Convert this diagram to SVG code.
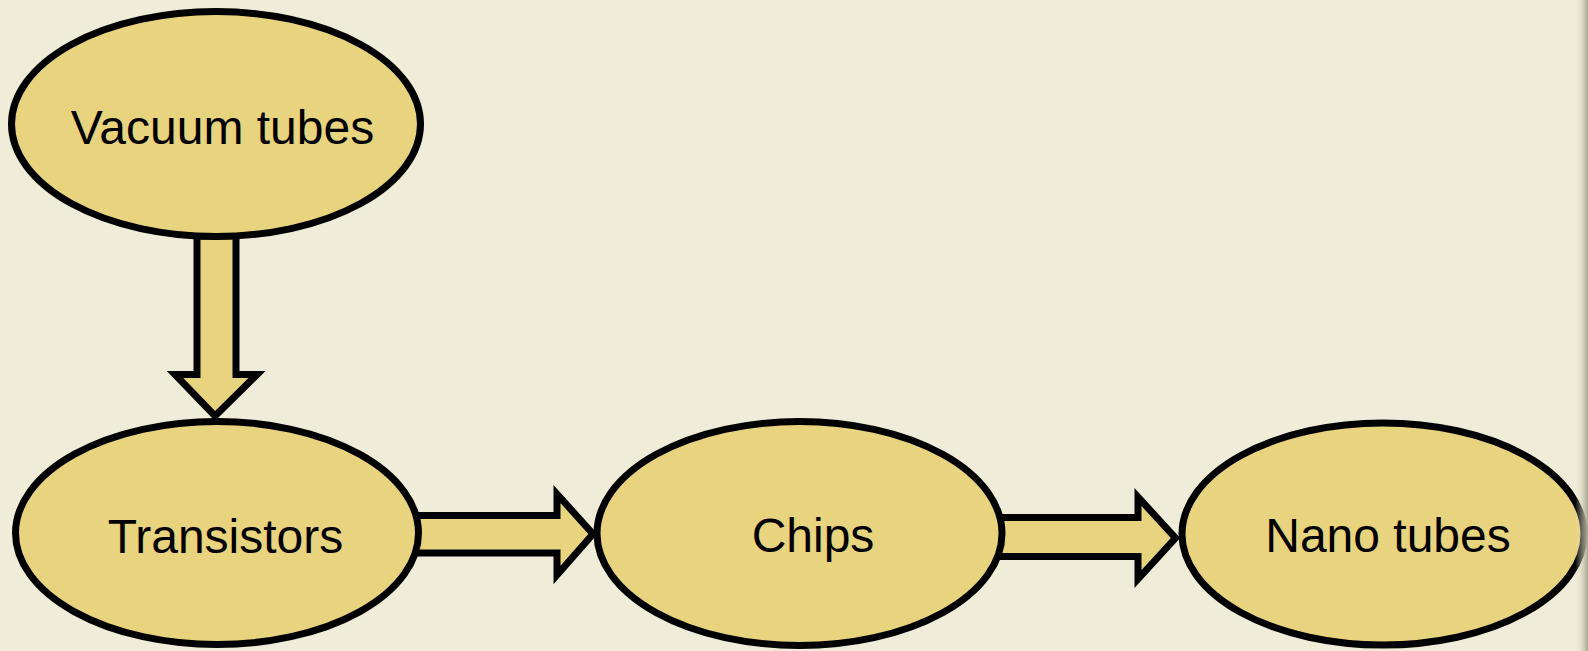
<svg xmlns="http://www.w3.org/2000/svg" width="1588" height="651" viewBox="0 0 1588 651">
<defs>
<linearGradient id="edge" x1="0" y1="0" x2="1" y2="0">
<stop offset="0" stop-color="#EFEDD9" stop-opacity="0"/>
<stop offset="1" stop-color="#A9A791"/>
</linearGradient>
<style>
.node{fill:#E8D37E;stroke:#000;stroke-width:7}
.arr{fill:#E8D37E;stroke:#000;stroke-width:7;stroke-linejoin:miter;stroke-miterlimit:10}
.lbl{font-family:"Liberation Sans",Arial,sans-serif;font-size:48px;fill:#000;text-anchor:middle}
</style>
</defs>
<rect x="0" y="0" width="1588" height="651" fill="#EFEDD9"/>
<g id="connectors">
<polygon class="arr" points="197,236 236,236 236,374.5 257,374.5 215,416 175,374.5 197,374.5"/>
<polygon class="arr" points="412,515.5 557,515.5 557,494 593,534 557,575 557,553 412,553"/>
<polygon class="arr" points="994,517.5 1138,517.5 1138,497 1175.5,538 1138,579 1138,556.5 994,556.5"/>
</g>
<g id="node-vacuum">
<ellipse class="node" cx="216" cy="124" rx="204.5" ry="112.5"/>
<text class="lbl" x="222.5" y="144">Vacuum tubes</text>
</g>
<g id="node-transistors">
<ellipse class="node" cx="217" cy="533" rx="201.5" ry="111.5"/>
<text class="lbl" x="225.5" y="552.5">Transistors</text>
</g>
<g id="node-chips">
<ellipse class="node" cx="799.5" cy="533.5" rx="202.5" ry="112"/>
<text class="lbl" x="813" y="552">Chips</text>
</g>
<g id="node-nano">
<ellipse class="node" cx="1383" cy="534" rx="201" ry="111"/>
<text class="lbl" x="1388" y="552">Nano tubes</text>
</g>
<rect x="1575" y="0" width="13" height="651" fill="url(#edge)"/>
</svg>
